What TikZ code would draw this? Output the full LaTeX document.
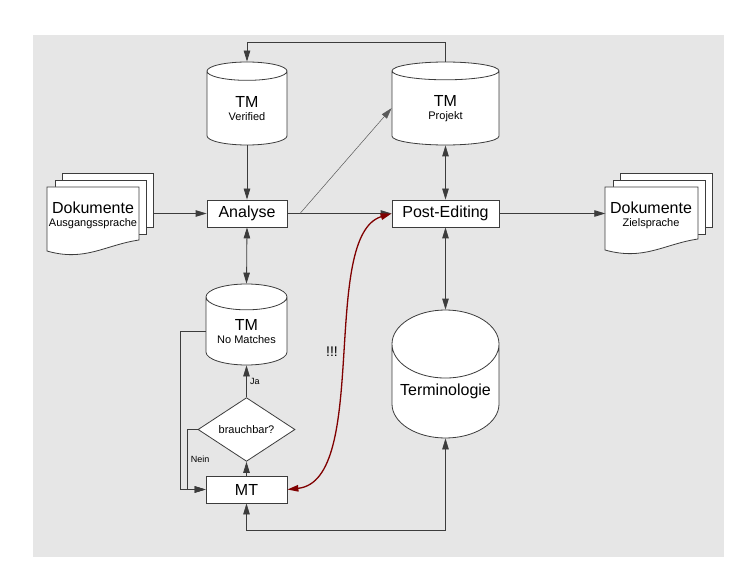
\documentclass[tikz,border=0pt]{standalone}
\usepackage{fontspec}
\setmainfont{Liberation Sans}
\usetikzlibrary{shapes.geometric,arrows.meta}
\definecolor{panelgrau}{RGB}{230,230,230}
\definecolor{linie}{RGB}{60,60,60}
\definecolor{dunkelrot}{RGB}{128,0,0}
\newcommand\grossschrift{\fontsize{16}{13}\selectfont}
\newcommand\kleinschrift{\fontsize{11}{13}\selectfont}
\newcommand\winzigschrift{\fontsize{9}{11}\selectfont}

\begin{document}
\begin{tikzpicture}[x=1pt, y=-1pt,
        >={Triangle[length=11pt,width=6.5pt]},
        kasten/.style={rectangle, draw=linie, fill=white, line width=0.8pt, minimum height=27pt, inner sep=0pt, font=\grossschrift},
        speicher/.style={cylinder, shape border rotate=90, anchor=shape center, draw=linie, fill=white, line width=0.8pt, inner sep=0pt, align=center, font=\grossschrift},
        raute/.style={diamond, draw=linie, fill=white, line width=0.8pt, inner sep=0pt, minimum width=97pt, minimum height=37pt, font=\kleinschrift},
        blatt/.style={draw=linie, fill=white, line width=0.8pt},
        stapel/.style={minimum width=106pt, minimum height=82pt, inner sep=0pt},
        pfeil/.style={draw=linie, line width=0.8pt},
        ]

        % Hintergrund
        \path[use as bounding box, fill=white] (0,0) rectangle (740,583);
        \fill[panelgrau] (33,35) rectangle (724,557);

        % Dokumente Ausgangssprache
        \draw[blatt] (62,173) rectangle (153,227);
        \draw[blatt] (55,180) rectangle (146,234);
        \draw[blatt] (47,187) -- (139,187) -- (139,240) .. controls (105,245) and (85,262) .. (47,251) -- cycle;
        \node[stapel] (quelle) at (100,213.5) { };
        \node[align=center, font=\grossschrift] (quelletext) at (93,215) {Dokumente\\\kleinschrift Ausgangssprache};

        % Dokumente Zielsprache
        \draw[blatt] (620,173) rectangle (712,227);
        \draw[blatt] (613,180) rectangle (705,234);
        \draw[blatt] (605,187) -- (698,187) -- (698,239) .. controls (664,244) and (644,261) .. (605,250) -- cycle;
        \node[stapel] (ziel) at (658.5,213.5) { };
        \node[align=center, font=\grossschrift] (zieltext) at (651,215) {Dokumente\\\kleinschrift Zielsprache};

        % Speicher
        \node[speicher, minimum width=80pt, minimum height=83pt, aspect=0.5] (tmver) at (247,103.5) {TM\\\kleinschrift Verified};
        \node[speicher, minimum width=107pt, minimum height=83pt, aspect=0.52] (tmproj) at (445.5,103.5) {TM\\\kleinschrift Projekt};
        \node[speicher, minimum width=81pt, minimum height=81pt, aspect=0.44] (tmnomatch) at (246.5,324.5) {TM\\\kleinschrift No Matches};
        \node[speicher, minimum width=107pt, minimum height=128pt, aspect=0.75] (term) at (445.5,374) {Terminologie};

        % Schritte
        \node[kasten, minimum width=80pt] (analyse) at (247,213.5) {Analyse};
        \node[kasten, minimum width=107pt] (postedit) at (445.5,213.5) {Post-Editing};
        \node[raute] (brauchbar) at (246.5,429.5) {brauchbar?};
        \node[kasten, minimum width=81pt] (mt) at (246.5,489.5) {MT};
        \coordinate (abzweig) at (300,213.5);

        % Verbindungen
        \draw[pfeil,->] (tmproj.north) -- ++(0,-19) -| (tmver.north);
        \draw[pfeil,->] (tmver.south) -- (analyse.north);
        \draw[pfeil,->] (quelle.east) -- (analyse.west);
        \draw[pfeil,->] (analyse.east) -- (postedit.west);
        \draw[pfeil,->,draw=black!65,line width=0.5pt] (abzweig) -- (tmproj.west);
        \draw[pfeil,<->] (tmproj.south) -- (postedit.north);
        \draw[pfeil,->] (postedit.east) -- (ziel.west);
        \draw[pfeil,<->] (analyse.south) -- (tmnomatch.north);
        \draw[pfeil,<->] (postedit.south) -- (term.north);
        \draw[pfeil,->] (brauchbar.north) -- node[right, font=\winzigschrift] {Ja} (tmnomatch.south);
        \draw[pfeil,->] (mt.north) -- (brauchbar.south);
        \draw[pfeil,->] (brauchbar.west) -- ++(-10.5,0) |- node[pos=0.25, right, font=\winzigschrift] {Nein} (mt.west);
        \draw[pfeil,->] (tmnomatch.west) -- ++(-25,0) |- (mt.west);
        \draw[pfeil,<->] (term.south) -- ++(0,92) -| (mt.south);

        % MT talks to Post-Editing
        \draw[<->, draw=dunkelrot, line width=1.3pt] (mt.east) .. controls +(83,-9) and +(-72,22) .. (postedit.west);
        \node[font=\fontsize{14}{14}\selectfont] (warnung) at (332,352) {!!!};

    \end{tikzpicture}
\end{document}
